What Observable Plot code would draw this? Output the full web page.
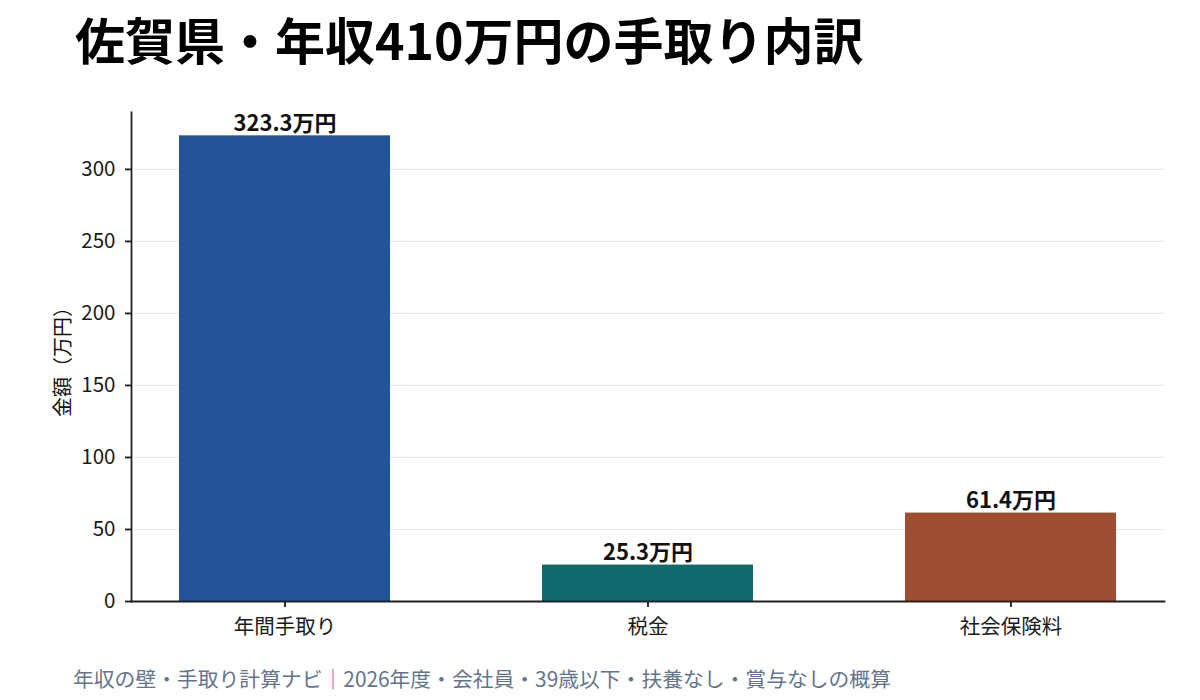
<!DOCTYPE html>
<html>
<head>
<meta charset="utf-8">
<script src="https://cdn.jsdelivr.net/npm/d3@7"></script>
<script src="https://cdn.jsdelivr.net/npm/@observablehq/plot@0.6"></script>
<style>
  html, body { margin: 0; padding: 0; background: #fff; }
  body { width: 1200px; height: 700px; position: relative; overflow: hidden;
         font-family: "Noto Sans CJK JP", "Noto Sans", sans-serif; }
  #title { position: absolute; left: 75px; top: 8px; font-size: 50px; font-weight: bold;
           line-height: 1.2; color: #000; white-space: nowrap; }
  #chart { position: absolute; left: 0; top: 0; }
  #caption { position: absolute; left: 73px; top: 666px; font-size: 20.8px; color: #64748b;
             line-height: 1.2; white-space: nowrap; }
</style>
</head>
<body>
<div id="chart"></div>
<div id="title">佐賀県・年収410万円の手取り内訳</div>
<div id="caption">年収の壁・手取り計算ナビ｜2026年度・会社員・39歳以下・扶養なし・賞与なしの概算</div>
<script>
const categories = ["年間手取り", "税金", "社会保険料"];
const values = [323.3, 25.3, 61.4];
const valueLabels = ["323.3万円", "25.3万円", "61.4万円"];
const colors = ["#25539a", "#0f6b6e", "#a04e32"];
const yTicks = [0, 50, 100, 150, 200, 250, 300];
const yMax = 339.5;
const yLabel = "金額（万円）";

const data = categories.map((c, i) => ({cat: c, value: values[i], label: valueLabels[i], color: colors[i]}));

const chart = Plot.plot({
  width: 1200,
  height: 700,
  marginTop: 112,
  marginBottom: 99,
  marginLeft: 131,
  marginRight: 36,
  style: {fontFamily: "'Noto Sans CJK JP', 'Noto Sans', sans-serif", background: "transparent", color: "#1a1a1a"},
  x: {domain: categories, paddingInner: 0.42, paddingOuter: 0.13, align: 0.5},
  y: {domain: [0, yMax]},
  marks: [
    Plot.gridY(yTicks, {stroke: "#e9e9e9", strokeOpacity: 1, strokeWidth: 1.2}),
    Plot.barY(data, {x: "cat", y: "value", fill: "color"}),
    Plot.text(data, {x: "cat", y: "value", text: "label", lineAnchor: "bottom", dy: -5,
                     fontSize: 22, fontWeight: "bold", fill: "#111"}),
    Plot.axisY({ticks: yTicks, tickSize: 6, tickPadding: 10, fontSize: 20.5, label: null,
                color: "#1a1a1a", strokeWidth: 1.8}),
    Plot.axisX({tickSize: 6, tickPadding: 12, fontSize: 20.5, label: null,
                color: "#1a1a1a", strokeWidth: 1.8}),
    Plot.frame({anchor: "left", stroke: "#222", strokeWidth: 1.8}),
    Plot.frame({anchor: "bottom", stroke: "#222", strokeWidth: 1.8}),
    Plot.text([yLabel], {frameAnchor: "left", textAnchor: "middle", rotate: -90, dx: -68, dy: 0,
                         fontSize: 20, fill: "#111"})
  ]
});
document.getElementById("chart").appendChild(chart);
</script>
</body>
</html>
